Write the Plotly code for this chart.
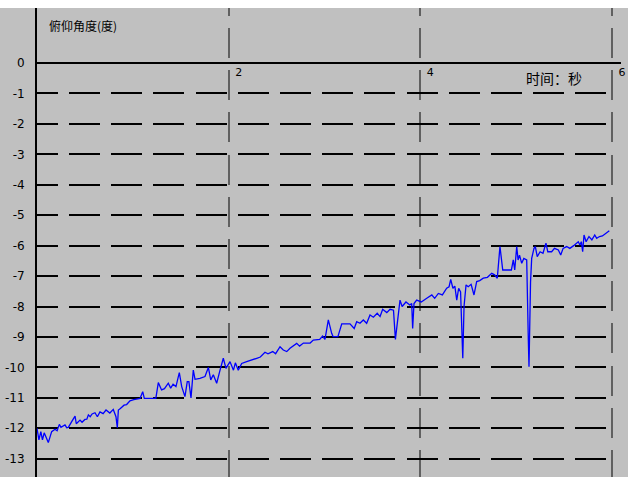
import plotly.graph_objects as go

# Pitch angle record: time (s) and pitch (deg)
time_s = [
    0.000, 0.020, 0.040, 0.057, 0.075, 0.095, 0.118, 0.153, 0.188, 0.210,
    0.233, 0.250, 0.270, 0.292, 0.310, 0.327, 0.362, 0.380, 0.397, 0.410,
    0.430, 0.449, 0.470, 0.500, 0.520, 0.536, 0.555, 0.575, 0.605, 0.630,
    0.657, 0.690, 0.720, 0.760, 0.796, 0.824, 0.838, 0.849, 0.870, 0.908,
    0.935, 0.970, 1.010, 1.050, 1.075, 1.103, 1.120, 1.240, 1.266, 1.300,
    1.330, 1.370, 1.395, 1.420, 1.450, 1.485, 1.510, 1.544, 1.568, 1.585,
    1.607, 1.631, 1.649, 1.700, 1.753, 1.788, 1.813, 1.840, 1.875, 1.910,
    1.944, 1.972, 2.014, 2.050, 2.070, 2.100, 2.136, 2.188, 2.223, 2.293,
    2.330, 2.379, 2.410, 2.460, 2.490, 2.536, 2.570, 2.606, 2.640, 2.710,
    2.740, 2.780, 2.850, 2.883, 2.950, 2.980, 3.005, 3.040, 3.075, 3.090,
    3.140, 3.180, 3.266, 3.310, 3.336, 3.370, 3.405, 3.440, 3.475, 3.510,
    3.550, 3.580, 3.607, 3.650, 3.684, 3.720, 3.740, 3.760, 3.788, 3.810,
    3.850, 3.890, 3.910, 3.920, 3.934, 3.962, 4.010, 4.067, 4.120, 4.150,
    4.188, 4.230, 4.275, 4.300, 4.317, 4.340, 4.360, 4.380, 4.400, 4.420,
    4.432, 4.443, 4.456, 4.477, 4.500, 4.530, 4.560, 4.588, 4.620, 4.657,
    4.700, 4.745, 4.775, 4.803, 4.831, 4.860, 4.900, 4.950, 4.970, 4.985,
    5.006, 5.020, 5.035, 5.058, 5.080, 5.110, 5.127, 5.134, 5.150, 5.162,
    5.186, 5.200, 5.220, 5.250, 5.280, 5.311, 5.330, 5.370, 5.400, 5.440,
    5.465, 5.490, 5.527, 5.560, 5.600, 5.648, 5.665, 5.680, 5.694, 5.708,
    5.730, 5.760, 5.790, 5.820, 5.840, 5.870, 5.900, 5.945, 5.972,
]
pitch_deg = [
    -12.00, -12.38, -12.11, -12.38, -12.15, -12.30, -12.47, -12.11, -12.03, -12.08,
    -11.87, -11.97, -11.93, -11.89, -11.98, -11.97, -11.78, -11.70, -11.60, -11.85,
    -11.78, -11.73, -11.80, -11.71, -11.70, -11.56, -11.62, -11.53, -11.49, -11.62,
    -11.46, -11.52, -11.40, -11.50, -11.38, -11.62, -11.98, -11.40, -11.35, -11.24,
    -11.22, -11.10, -11.06, -11.02, -11.02, -10.80, -11.02, -11.02, -10.50, -10.74,
    -10.70, -10.52, -10.68, -10.55, -10.63, -10.17, -10.63, -10.96, -10.47, -10.47,
    -11.00, -10.09, -10.39, -10.36, -10.30, -10.00, -10.41, -10.24, -10.52, -10.09,
    -9.70, -10.03, -9.81, -10.09, -9.85, -10.09, -9.87, -9.81, -9.78, -9.70,
    -9.66, -9.50, -9.55, -9.48, -9.55, -9.32, -9.43, -9.48, -9.37, -9.21,
    -9.30, -9.20, -9.20, -9.10, -9.08, -8.97, -9.08, -8.44, -8.88, -8.99,
    -8.99, -8.57, -8.57, -8.72, -8.50, -8.55, -8.44, -8.55, -8.28, -8.35,
    -8.22, -8.33, -8.09, -8.20, -8.09, -8.12, -9.08, -8.50, -7.79, -8.00,
    -7.85, -7.95, -7.90, -8.72, -7.90, -7.79, -7.85, -7.73, -7.62, -7.73,
    -7.57, -7.62, -7.40, -7.35, -7.11, -7.40, -7.33, -7.79, -7.40, -7.52,
    -9.10, -9.70, -8.00, -7.29, -7.35, -7.27, -7.62, -7.18, -7.15, -7.07,
    -7.04, -6.91, -6.96, -7.07, -6.03, -6.80, -6.80, -6.80, -6.47, -6.80,
    -6.03, -6.47, -6.31, -6.58, -6.42, -6.47, -9.10, -9.98, -7.20, -6.42,
    -6.09, -6.03, -6.36, -6.20, -6.25, -5.92, -6.20, -6.20, -6.09, -6.14,
    -6.31, -6.09, -6.03, -6.09, -6.00, -5.87, -5.98, -5.87, -6.20, -5.65,
    -5.87, -5.70, -5.81, -5.65, -5.76, -5.70, -5.68, -5.57, -5.51,
]

y_ticks = list(range(0, -14, -1))
y_tick_text = [str(v) for v in y_ticks]
x_ticks = [2, 4, 6]
x_tick_text = ["2", "4", "6"]

y_title = "俯仰角度(度)"
x_title = "时间：秒"

BG = "#c0c0c0"


def dash_pattern(first, gap, dash, period_gap, count):
    parts = [first, gap] + [dash, period_gap] * count + [dash, 300]
    return ",".join(f"{p}px" for p in parts)


h_dash = dash_pattern(21, 11, 31, 11.2, 12)
v_dash = dash_pattern(8, 12, 30, 12.2, 10)

fig = go.Figure()
fig.add_trace(go.Scatter(
    x=time_s, y=pitch_deg, mode="lines",
    line=dict(color="#0000ff", width=1.3),
    hoverinfo="skip",
))

fig.update_layout(
    width=628, height=477,
    margin=dict(l=37, r=7, t=8, b=0, pad=0),
    paper_bgcolor=BG, plot_bgcolor=BG,
    showlegend=False,
    xaxis=dict(
        range=[0, 6.094],
        anchor="free", position=13.6 / (13.6 + 1.807),
        tickvals=x_ticks, ticktext=x_tick_text,
        showgrid=True, gridcolor="#606060", gridwidth=2, griddash=v_dash,
        zeroline=False, showline=False, ticks="",
        ticklabelshift=10, ticklabelstandoff=1,
        tickfont=dict(family="DejaVu Sans", size=11, color="#000000"),
        automargin=False, fixedrange=True,
    ),
    yaxis=dict(
        range=[-13.6, 1.807],
        tickvals=y_ticks, ticktext=y_tick_text,
        showgrid=True, gridcolor="#000000", gridwidth=2, griddash=h_dash,
        zeroline=True, zerolinecolor="#000000", zerolinewidth=2,
        showline=True, linecolor="#000000", linewidth=2,
        ticks="", ticklabelstandoff=8,
        tickfont=dict(family="DejaVu Sans", size=12, color="#000000"),
        automargin=False, fixedrange=True,
    ),
    shapes=[dict(
        type="rect", xref="paper", yref="paper",
        x0=-0.2, x1=1.2, y0=1, y1=1.05,
        fillcolor="#ffffff", line=dict(width=0), layer="above",
    )],
    annotations=[
        dict(x=0.105, y=1.235, xref="x", yref="y", text=y_title,
             showarrow=False, xanchor="left", yanchor="middle",
             font=dict(family="Noto Sans CJK SC", size=12, color="#000000")),
        dict(x=5.08, y=-0.48, xref="x", yref="y", text=x_title,
             showarrow=False, xanchor="left", yanchor="middle",
             font=dict(family="Noto Sans CJK SC", size=14, color="#000000")),
    ],
)

fig.write_html("out.html")
